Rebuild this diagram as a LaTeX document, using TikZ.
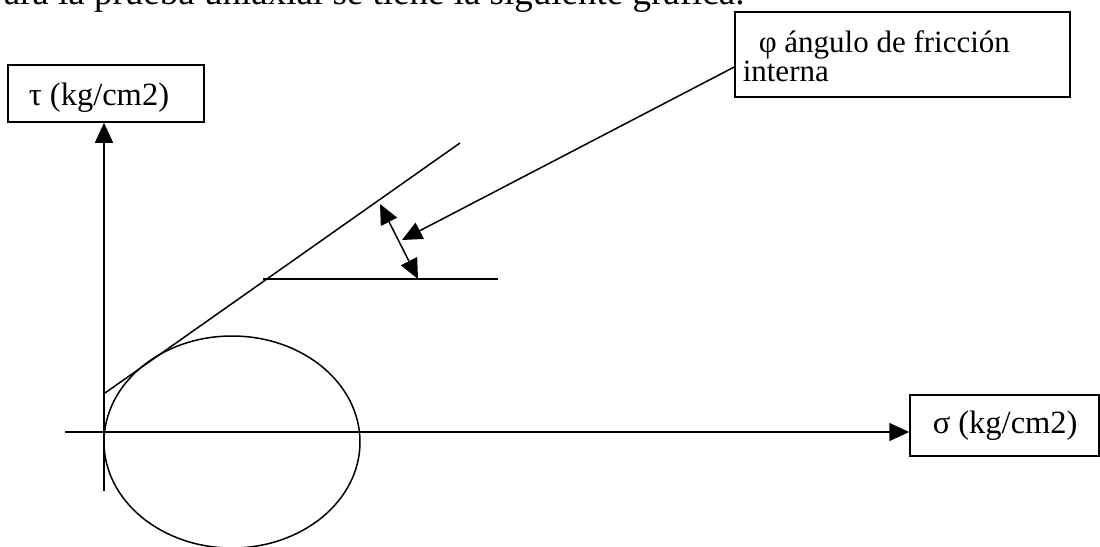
\documentclass[tikz,border=0pt]{standalone}
\usepackage{fontspec}
\setmainfont{Liberation Serif}
\usetikzlibrary{arrows.meta}
\begin{document}
\begin{tikzpicture}[x=1pt,y=-1pt, line width=1.5pt,
  lbl/.style={font=\fontsize{32.5}{26}\selectfont, inner sep=0pt, anchor=base west},
  box/.style={draw, line width=1.5pt, inner sep=0pt},
  tip/.style={-{Triangle[length=20pt,width=18pt]}},
  dtip/.style={{Triangle[length=20pt,width=18pt]}-{Triangle[length=20pt,width=18pt]}}]
\useasboundingbox (0,0) rectangle (1100,546);
\clip (0,0) rectangle (1100,546);
% cut-off sentence at the top
\node[font=\fontsize{37}{40}\selectfont, inner sep=0pt, anchor=base west] (intro) at (3,5) {ara la prueba uniaxial se tiene la siguiente gráfica.};
% boxes
\node[box, minimum width=196pt, minimum height=57pt] (taubox) at (106,93.5) {};
\node[box, minimum width=189pt, minimum height=61pt] (sigbox) at (1004.5,425.5) {};
\node[box, minimum width=335pt, minimum height=85pt] (phibox) at (902.5,54.5) {};
% texts
\node[lbl] (tautext) at (28,105) {τ (kg/cm2)};
\node[lbl] (sigtext) at (932,433) {σ (kg/cm2)};
\node[font=\fontsize{31}{26}\selectfont, inner sep=0pt, align=left, anchor=base west] (phitext) at (742,81) {\hspace{16pt}φ ángulo de fricción\\interna};
% axes
\coordinate (yb) at (104,491);
\coordinate (xl) at (65,432);
\draw[tip] (yb) -- (yb |- taubox.south);
\draw[tip] (xl) -- (xl -| sigbox.west);
% Mohr circle
\draw (232,442) ellipse [x radius=128pt, y radius=106pt];
% failure envelope
\coordinate (t0) at (105,393);
\coordinate (t1) at (460,143);
\draw (t0) -- (t1);
% horizontal reference
\coordinate (h0) at (263,279);
\coordinate (h1) at (498,279);
\draw (h0) -- (h1);
% angle arrow
\coordinate (a0) at (380,204);
\coordinate (a1) at (418,279);
\draw[dtip] (a0) -- (a1);
% leader
\coordinate (lt) at (402,240);
\draw[tip] ([yshift=-12.5pt]phibox.west) -- (lt);
\end{tikzpicture}
\end{document}
